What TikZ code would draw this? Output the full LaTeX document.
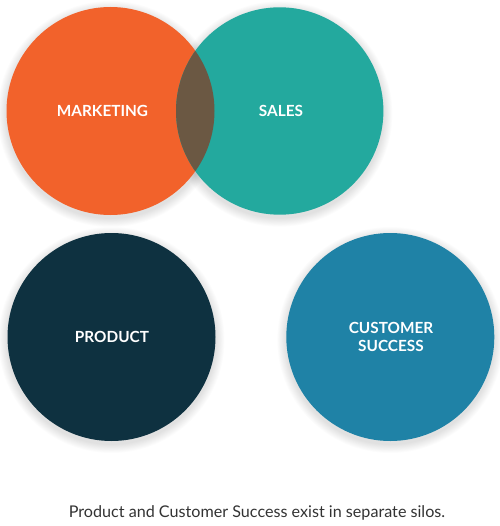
\documentclass[tikz,border=0pt]{standalone}
\usepackage{fontspec}
\setmainfont{Lato}
\newfontfamily\labelfont{Lato Bold}
\usetikzlibrary{calc}
\definecolor{mkt}{HTML}{F2622B}
\definecolor{sal}{HTML}{23A99E}
\definecolor{lens}{HTML}{6B5843}
\definecolor{prod}{HTML}{0E3140}
\definecolor{cust}{HTML}{1F82A6}
\tikzset{
  x=1bp, y=-1bp,
  lbl/.style={text=white, font=\labelfont\fontsize{15.4}{18}\selectfont, align=center},
  captext/.style={text=black!80, font=\fontsize{16.2}{18}\selectfont},
}
\newcommand{\softshadow}[2]{%
  \foreach \k in {1,...,10}{\fill[black, opacity=0.012] ($(#1)+(0,3)$) circle ({#2+\k*0.9});}}
\begin{document}
\begin{tikzpicture}
\fill[white] (0,0) rectangle (500,526);
\useasboundingbox (0,0) rectangle (500,526);
\coordinate (cm) at (110.5,111);
\coordinate (cs) at (279.7,111);
\coordinate (cp) at (111.5,337);
\coordinate (cc) at (390.3,337);
\softshadow{cm}{104}
\softshadow{cs}{103.7}
\softshadow{cp}{104}
\softshadow{cc}{104}
\fill[mkt] (cm) circle (104);
\fill[sal] (cs) circle (103.7);
\begin{scope}
  \clip (cm) circle (104);
  \fill[lens] (cs) circle (103.7);
\end{scope}
\fill[prod] (cp) circle (104);
\fill[cust] (cc) circle (104);
\node[lbl] (m) at (102.5,111) {MARKETING};
\node[lbl] (s) at (281,111) {SALES};
\node[lbl] (p) at (112,337) {PRODUCT};
\node[lbl] (c) at (391,337) {CUSTOMER\\SUCCESS};
\node[captext] (t) at (257,513) {Product and Customer Success exist in separate silos.};
\end{tikzpicture}
\end{document}
